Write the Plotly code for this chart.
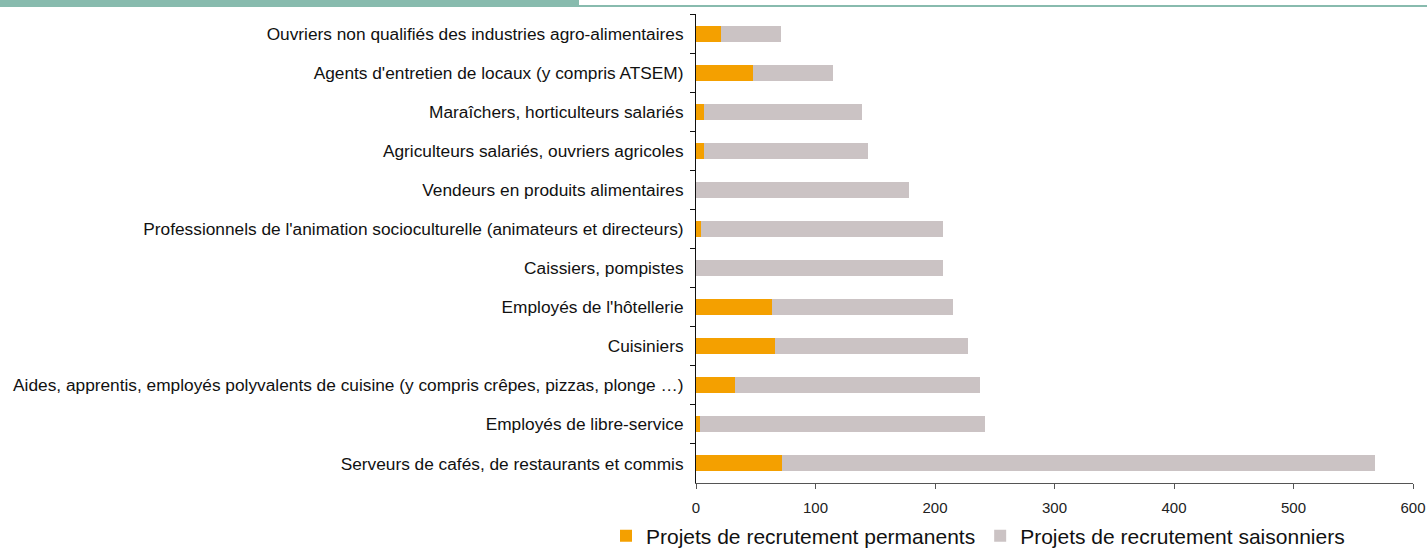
import plotly.graph_objects as go

categories = [
    "Ouvriers non qualifiés des industries agro-alimentaires",
    "Agents d'entretien de locaux (y compris ATSEM)",
    "Maraîchers, horticulteurs salariés",
    "Agriculteurs salariés, ouvriers agricoles",
    "Vendeurs en produits alimentaires",
    "Professionnels de l'animation socioculturelle (animateurs et directeurs)",
    "Caissiers, pompistes",
    "Employés de l'hôtellerie",
    "Cuisiniers",
    "Aides, apprentis, employés polyvalents de cuisine (y compris crêpes, pizzas, plonge …)",
    "Employés de libre-service",
    "Serveurs de cafés, de restaurants et commis",
]
permanents = [21, 48, 7, 7, 0, 4, 0, 64, 66, 33, 3, 72]
saisonniers = [50, 67, 132, 137, 178, 203, 207, 151, 162, 205, 239, 496]
x_ticks = [0, 100, 200, 300, 400, 500, 600]

ORANGE = "#f4a000"
GREY = "#cbc3c4"
GREEN = "#88bbae"

fig = go.Figure()
fig.add_trace(go.Bar(
    y=categories, x=permanents, orientation="h",
    name="Projets de recrutement permanents",
    marker=dict(color=ORANGE, line=dict(width=0)),
))
fig.add_trace(go.Bar(
    y=categories, x=saisonniers, orientation="h",
    name="Projets de recrutement saisonniers",
    marker=dict(color=GREY, line=dict(width=0)),
))

W, H = 1427, 549
L, R, T, B = 696, 14, 14, 66
pw = W - L - R
ph = H - T - B

def px_x(p):
    return (p - L) / pw

def px_y(p):
    return 1 - (p - T) / ph

fig.update_layout(
    width=W, height=H,
    margin=dict(l=L, r=R, t=T, b=B, pad=0, autoexpand=False),
    barmode="stack",
    bargap=0.59,
    plot_bgcolor="white",
    paper_bgcolor="white",
    font=dict(family="Liberation Sans, Arial, sans-serif", color="#111"),
    showlegend=True,
    legend=dict(
        orientation="h",
        x=px_x(606), xanchor="left",
        y=px_y(536), yanchor="middle",
        font=dict(size=21, color="#111"),
        traceorder="normal",
        itemwidth=30,
        tracegroupgap=0,
        bgcolor="rgba(0,0,0,0)",
    ),
    xaxis=dict(
        range=[0, 600],
        tickvals=x_ticks,
        ticktext=[str(v) for v in x_ticks],
        showgrid=False,
        zeroline=False,
        showline=True, linecolor="#555", linewidth=1,
        ticks="outside", ticklen=5, tickcolor="#555",
        tickfont=dict(size=15, color="#222"),
        ticklabelstandoff=6,
        fixedrange=True,
    ),
    yaxis=dict(
        autorange="reversed",
        showgrid=False,
        showline=True, linecolor="#111", linewidth=1,
        ticks="outside", ticklen=5, tickcolor="#111",
        tickson="boundaries",
        tickfont=dict(size=17.3, color="#111"),
        ticklabelstandoff=8,
        fixedrange=True,
    ),
    shapes=[
        dict(type="rect", xref="paper", yref="paper",
             x0=px_x(0), x1=px_x(W), y0=px_y(7), y1=px_y(5),
             fillcolor=GREEN, line=dict(width=0), layer="above"),
        dict(type="rect", xref="paper", yref="paper",
             x0=px_x(0), x1=px_x(579), y0=px_y(6), y1=px_y(0),
             fillcolor=GREEN, line=dict(width=0), layer="above"),
    ],
)

fig.write_html(
    "out.html",
    config={"displayModeBar": False},
    post_script="document.body.style.margin='0';document.body.style.overflow='hidden';",
)
